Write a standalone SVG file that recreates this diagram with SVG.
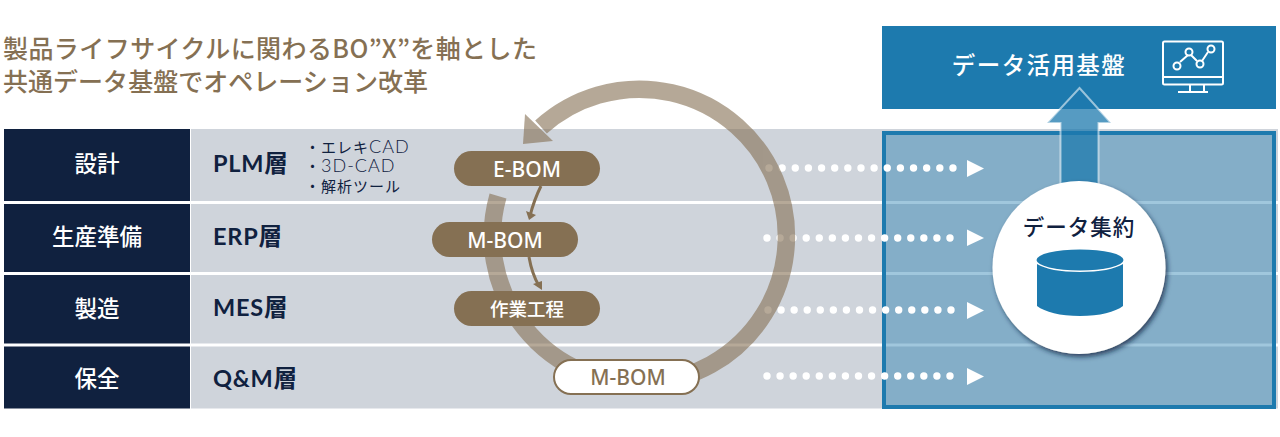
<svg xmlns="http://www.w3.org/2000/svg" width="1280" height="437" viewBox="0 0 1280 437">
<defs>
<style>
text{font-family:"Lato","Noto Sans CJK JP","Noto Sans",sans-serif}
.title{font-family:"Noto Sans CJK JP",sans-serif;font-size:25px;font-weight:500;fill:#857053}
.head{font-family:"Noto Sans CJK JP",sans-serif;font-size:22.500px;font-weight:500;fill:#fff;text-anchor:middle}
.layer{font-size:23.500px;font-weight:700;fill:#10213f;letter-spacing:.8px}
.note{font-size:15px;font-weight:400;fill:#10213f;letter-spacing:1px}
.latin{font-size:18px;font-weight:300}
.pill{fill:#857053}
.pilltext{font-family:"Noto Sans","Noto Sans CJK JP",sans-serif;font-size:21px;font-weight:500;fill:#fff;text-anchor:middle}
.dots{stroke:#fff;stroke-width:7.400;stroke-linecap:round;fill:none}
.tip{fill:#fff}
.flow{fill:none;stroke:#857053;stroke-width:3}
.cjk{font-family:"Noto Sans CJK JP",sans-serif;font-weight:500}
</style>
<filter id="shadow" x="-20%" y="-20%" width="140%" height="140%"><feDropShadow dx="2" dy="3" stdDeviation="2.500" flood-color="#10213f" flood-opacity=".75"/></filter>
</defs>

<g id="row-design"><rect x="4" y="129" width="186" height="72" fill="#10213f"/><rect x="191" y="129" width="1087" height="72" fill="#cfd4db"/><text class="head" x="97" y="171.500">設計</text><text class="layer" x="213" y="172">PLM層</text></g>
<g id="row-prep"><rect x="4" y="204" width="186" height="68" fill="#10213f"/><rect x="191" y="204" width="1087" height="68" fill="#cfd4db"/><text class="head" x="97" y="244.500">生産準備</text><text class="layer" x="213" y="245">ERP層</text></g>
<g id="row-mfg"><rect x="4" y="275" width="186" height="68.500" fill="#10213f"/><rect x="191" y="275" width="1087" height="68.500" fill="#cfd4db"/><text class="head" x="97" y="316.500">製造</text><text class="layer" x="213" y="316">MES層</text></g>
<g id="row-maint"><rect x="4" y="346.500" width="186" height="62" fill="#10213f"/><rect x="191" y="346.500" width="1087" height="62" fill="#cfd4db"/><text class="head" x="97" y="386.500">保全</text><text class="layer" x="213" y="387">Q&amp;M層</text></g>

<g id="title"><text class="title" x="3" y="58" textLength="534">製品ライフサイクルに関わるBO”X”を軸とした</text><text class="title" x="3" y="91" textLength="425">共通データ基盤でオペレーション改革</text></g>

<g id="notes"><text class="note" x="305" y="153">・エレキ<tspan class="latin">CAD</tspan></text><text class="note" x="305" y="172">・<tspan class="latin">3D-CAD</tspan></text><text class="note" x="305" y="192">・解析ツール</text></g>

<g id="node-panel"><rect x="884" y="133" width="390" height="274" fill="#1d7aae" fill-opacity=".42" stroke="#1d7aae" stroke-width="4"/></g>

<g id="node-platform">
<rect x="882" y="26" width="394" height="83" fill="#1d7aae"/>
<text class="cjk" x="1039" y="74" font-size="23.500" fill="#fff" text-anchor="middle" letter-spacing="1.400">データ活用基盤</text>
<g fill="none" stroke="#fff" stroke-width="2"><rect x="1163" y="41.500" width="60" height="43" rx="1.500"/><path d="M1163 77H1223M1190 85V91M1204 85V91M1178 92H1208"/><path d="M1180 62L1188 55M1191 55L1197 61M1202 61L1208 52"/><circle cx="1177" cy="66" r="3.500"/><circle cx="1189" cy="52" r="3.500"/><circle cx="1200" cy="64" r="3.500"/><circle cx="1211" cy="49" r="3.500"/></g>
</g>

<g id="connectors">
<g id="feeds">
<path class="dots" stroke-dasharray="0 13.140" d="M769 168H953"/>
<path class="dots" stroke-dasharray="0 13.070" d="M767 238H950"/>
<path class="dots" stroke-dasharray="0 13.070" d="M768 310H964"/>
<path class="dots" stroke-dasharray="0 13.070" d="M767 376H950"/>
<path class="tip" d="M967 160L984 168.500L967 177Z"/>
<path class="tip" d="M967 229.500L984 238L967 246Z"/>
<path class="tip" d="M967 302L984 310.500L967 319Z"/>
<path class="tip" d="M967 368L984 376.500L967 385Z"/>
</g>
<g id="cycle" opacity=".6">
<path d="M498 196A147 147 0 1 0 541 127" fill="none" stroke="#857053" stroke-width="17.500"/>
<path d="M525 114L523 144L553 141Z" fill="#857053"/>
</g>
<path class="flow" d="M541 186Q534 200 530 216"/><path class="pill" d="M526 211L536 215L529 220Z"/>
<path class="flow" d="M529 257Q532 274 539 286"/><path class="pill" d="M533 284L542 281L542 290Z"/>
<path id="up-arrow" d="M1079.500 88L1111 123H1098.500V186H1060.500V123H1047Z" fill="#1d7aae" fill-opacity=".75" stroke="#fff" stroke-opacity=".55" stroke-width="2"/>
</g>

<g id="node-ebom"><rect class="pill" x="454" y="151" width="146" height="35" rx="17.500"/><text class="pilltext" x="527" y="176.500">E-BOM</text></g>
<g id="node-mbom"><rect class="pill" x="432" y="222" width="146" height="35" rx="17.500"/><text class="pilltext" x="505" y="247.500">M-BOM</text></g>
<g id="node-process"><rect class="pill" x="454" y="291" width="146" height="35" rx="17.500"/><text class="pilltext" x="527" y="315.500" style="font-family:'Noto Sans CJK JP',sans-serif;font-size:18.500px">作業工程</text></g>
<g id="node-mbom2"><rect x="554" y="360" width="145" height="34" rx="17" fill="#fff" stroke="#857053" stroke-width="2"/><text class="pilltext" x="628" y="384.500" style="fill:#857053">M-BOM</text></g>

<g id="node-store">
<circle cx="1079" cy="267.500" r="86.500" fill="#fff" filter="url(#shadow)"/>
<text class="cjk" x="1079" y="235" font-size="21.500" fill="#10213f" text-anchor="middle" letter-spacing="1">データ集約</text>
<ellipse cx="1080" cy="260" rx="43.500" ry="10.500" fill="#1d7aae"/>
<path d="M1037 264C1045 269 1060 272 1080 272C1100 272 1115 269 1123 264V306C1115 312 1100 316 1080 316C1060 316 1045 312 1037 306Z" fill="#1d7aae"/>
</g>
</svg>
